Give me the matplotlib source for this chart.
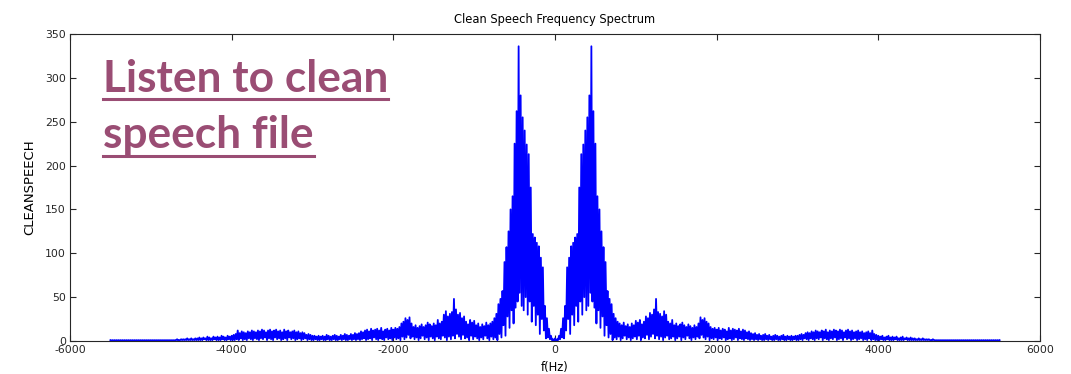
import numpy as np
import matplotlib
matplotlib.use('Agg')
import matplotlib.pyplot as plt
from matplotlib.lines import Line2D

# one-sided magnitude spectrum (spectrum of a real signal is mirrored about 0 Hz)
# peak values every 25 Hz from 0 to 5500 Hz
spec_peaks = [
    3, 2, 6, 14, 26, 40, 84, 95, 108, 112, 118, 122, 175, 213, 224, 240, 255, 280, 336, 262,
    225, 165, 150, 125, 107, 90, 57, 48, 42, 31, 26, 22, 20, 18, 21, 17, 19, 16, 20, 18,
    23, 21, 24, 19, 22, 28, 26, 32, 30, 36, 48, 33, 31, 28, 34, 30, 22, 20, 24, 18,
    20, 17, 19, 21, 18, 16, 19, 17, 15, 18, 16, 20, 27, 24, 26, 22, 20, 16, 14, 15,
    13, 15, 12, 14, 13, 11, 15, 12, 14, 13, 12, 14, 11, 13, 12, 10, 11, 9, 8, 9,
    7, 8, 6, 7, 8, 6, 7, 5, 6, 7, 6, 5, 6, 7, 5, 6, 5, 6, 5, 6,
    6, 7, 8, 7, 9, 10, 9, 11, 10, 12, 11, 10, 12, 11, 13, 10, 12, 11, 13, 12,
    11, 13, 12, 10, 12, 13, 11, 12, 10, 11, 12, 10, 11, 9, 10, 11, 9, 12, 8, 7,
    6, 5, 6, 4, 5, 6, 4, 5, 4, 5, 3, 4, 5, 3, 4, 3, 4, 3, 3, 2,
    3, 2, 3, 2, 2, 2, 1, 2, 1, 1, 1, 1, 1, 1, 1, 1, 1, 1, 1, 1,
    1, 1, 1, 1, 1, 1, 1, 1, 1, 1, 1, 1, 1, 1, 1, 1, 1, 1, 1, 1, 1,
]
# trough values between the peaks (12.5 Hz to 5487.5 Hz)
spec_troughs = [
    0, 1, 2, 4, 3, 12, 25, 8, 30, 18, 40, 22, 45, 30, 50, 35, 40, 55, 45, 38,
    20, 35, 15, 28, 6, 18, 4, 8, 1, 4, 2, 5, 1, 3, 6, 2, 4, 1, 3, 5,
    2, 6, 1, 4, 3, 7, 2, 5, 8, 3, 6, 2, 5, 1, 4, 6, 2, 3, 5, 1,
    3, 5, 1, 4, 2, 6, 3, 1, 4, 2, 5, 3, 7, 4, 2, 5, 1, 3, 2, 4,
    1, 3, 2, 4, 1, 2, 3, 1, 2, 4, 1, 3, 2, 1, 3, 2, 1, 2, 1, 2,
    1, 2, 1, 1, 2, 1, 2, 1, 1, 2, 1, 1, 2, 1, 1, 2, 1, 1, 2, 1,
    1, 2, 1, 3, 2, 1, 3, 2, 1, 3, 2, 4, 1, 3, 2, 1, 3, 2, 4, 1,
    2, 3, 1, 4, 2, 3, 1, 2, 3, 1, 2, 3, 1, 2, 1, 3, 1, 2, 1, 1,
    1, 2, 1, 1, 2, 1, 1, 1, 2, 1, 1, 1, 1, 2, 1, 1, 1, 1, 1, 1,
    1, 1, 1, 1, 1, 1, 0.5, 1, 0.5, 0.5, 0.5, 0.5, 0.5, 0.5, 0.5, 0.5, 0.5, 0.5, 0.5, 0.5,
    0.5, 0.5, 0.5, 0.5, 0.5, 0.5, 0.5, 0.5, 0.5, 0.5, 0.5, 0.5, 0.5, 0.5, 0.5, 0.5, 0.5, 0.5, 0.5, 0.5,
]
bin_step = 25.0

x_ticks = [-6000, -4000, -2000, 0, 2000, 4000, 6000]
y_ticks = [0, 50, 100, 150, 200, 250, 300, 350]

title_text = 'Clean Speech Frequency Spectrum'
overlay_lines = ['Listen to clean', 'speech file']


# interleave peaks and troughs on the bin grid
n_pk = len(spec_peaks)
freq_pos = np.empty(2 * n_pk - 1)
mag_pos = np.empty(2 * n_pk - 1)
freq_pos[0::2] = np.arange(n_pk) * bin_step
freq_pos[1::2] = np.arange(n_pk - 1) * bin_step + bin_step / 2
mag_pos[0::2] = spec_peaks
mag_pos[1::2] = spec_troughs

freq = np.concatenate([-freq_pos[::-1], freq_pos[1:]])
mag = np.concatenate([mag_pos[::-1], mag_pos[1:]])

W, H = 1071, 374
plt.rcParams['font.family'] = ['DejaVu Sans']
plt.rcParams['axes.unicode_minus'] = False

fig = plt.figure(figsize=(W / 100, H / 100), dpi=100)
ax = fig.add_axes([70 / W, 33 / H, 970 / W, 307 / H])

ax.plot(freq, mag, color='blue', linewidth=1.3)

ax.set_xlim(-6000, 6000)
ax.set_ylim(0, 350)
ax.set_xticks(x_ticks)
ax.set_yticks(y_ticks)
ax.tick_params(direction='in', length=4, width=0.8, top=True, right=True,
               labelsize=7.8, colors='#262626', pad=3)
for s in ax.spines.values():
    s.set_color('#262626')
    s.set_linewidth(0.8)

ax.set_title(title_text, fontsize=8.3, pad=8)
ax.set_xlabel('f(Hz)', fontsize=8.3, labelpad=4)
ax.set_ylabel('CLEANSPEECH', fontsize=9.5, labelpad=6)

# overlay slide text, underlined
purple = '#9A4D74'
fig.canvas.draw()
renderer = fig.canvas.get_renderer()
base_y = [92, 148.5]
ul_y = [98.5, 156]
target_w = 388 - 103
t1 = fig.text(103 / W, 1 - base_y[0] / H, overlay_lines[0], fontsize=30,
              family=['Lato', 'DejaVu Sans'], fontweight='bold', color=purple,
              va='baseline', ha='left')
bb = t1.get_window_extent(renderer)
size = 30 * target_w / bb.width
t1.set_fontsize(size)
t2 = fig.text(103 / W, 1 - base_y[1] / H, overlay_lines[1], fontsize=size,
              family=['Lato', 'DejaVu Sans'], fontweight='bold', color=purple,
              va='baseline', ha='left')
for t, y in zip([t1, t2], ul_y):
    b = t.get_window_extent(renderer)
    fig.add_artist(Line2D([b.x0 / W, b.x1 / W], [1 - y / H, 1 - y / H],
                          transform=fig.transFigure, color=purple, linewidth=2.2))

fig.savefig('out.png', dpi=100)
